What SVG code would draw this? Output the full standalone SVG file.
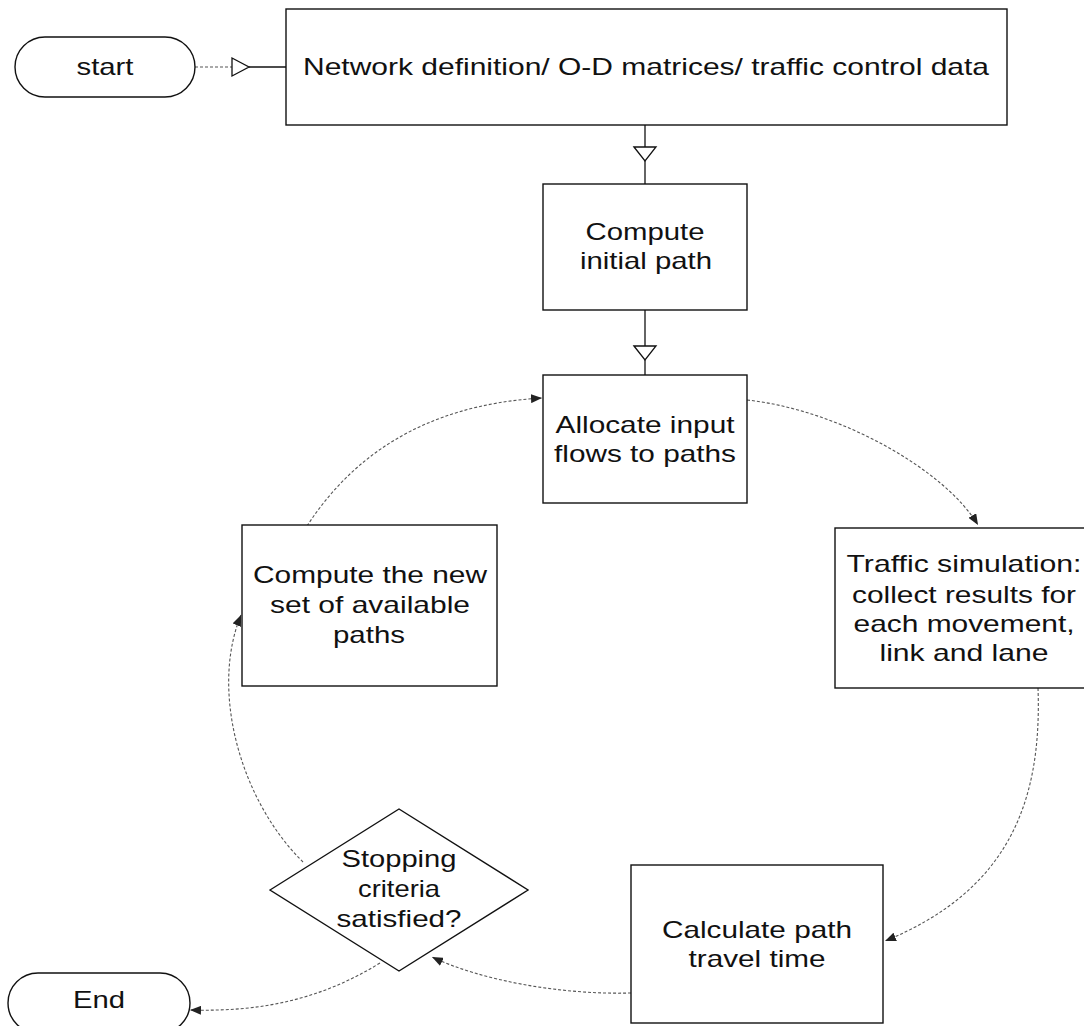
<svg xmlns="http://www.w3.org/2000/svg" width="1084" height="1026" viewBox="0 0 1084 1026">
  <style>
    .box { fill: #fff; stroke: #111; stroke-width: 1.4; }
    .lbl { font-family: "Liberation Sans", Arial, sans-serif; font-size: 24px; fill: #111; text-anchor: middle; }
    .solid { fill: none; stroke: #111; stroke-width: 1.3; }
    .dot { fill: none; stroke: #555; stroke-width: 1.1; stroke-dasharray: 3 2; }
    .open { fill: #fff; stroke: #111; stroke-width: 1.3; }
  </style>
  <defs>
    <marker id="arr" markerUnits="userSpaceOnUse" markerWidth="11" markerHeight="9" refX="11" refY="4.5" orient="auto">
      <path d="M0,0 L11,4.5 L0,9 Z" fill="#222"/>
    </marker>
  </defs>
  <rect width="1084" height="1026" fill="#fff"/>

  <!-- connectors -->
  <g id="connectors">
    <!-- start -> network definition -->
    <line class="dot" x1="195" y1="67" x2="232" y2="67"/>
    <line class="solid" x1="249" y1="67" x2="286" y2="67"/>
    <polygon class="open" points="232,58 249,67 232,76"/>
    <!-- network definition -> initial path -->
    <line class="solid" x1="645" y1="125" x2="645" y2="184"/>
    <polygon class="open" points="634,147 645,161 656,147"/>
    <!-- initial path -> allocate -->
    <line class="solid" x1="645" y1="310" x2="645" y2="375"/>
    <polygon class="open" points="634,346 645,360 656,346"/>
    <!-- allocate -> traffic simulation -->
    <path class="dot" d="M747,400 C840,410 945,470 978,525" marker-end="url(#arr)"/>
    <!-- traffic simulation -> calculate travel time -->
    <path class="dot" d="M1038,688 C1042,800 1010,890 885,941" marker-end="url(#arr)"/>
    <!-- calculate travel time -> stopping criteria -->
    <path class="dot" d="M631,993 C560,995 480,980 432,957" marker-end="url(#arr)"/>
    <!-- stopping criteria -> end -->
    <path class="dot" d="M380,963 C320,1000 260,1012 190,1010" marker-end="url(#arr)"/>
    <!-- stopping criteria -> new path set -->
    <path class="dot" d="M303,862 C240,800 210,690 241,615" marker-end="url(#arr)"/>
    <!-- new path set -> allocate -->
    <path class="dot" d="M307,526 C350,460 420,405 542,398" marker-end="url(#arr)"/>
  </g>

  <g id="start">
    <rect class="box" x="15" y="37" width="180" height="60" rx="30" ry="30"/>
    <text class="lbl" x="105" y="75" textLength="57" lengthAdjust="spacingAndGlyphs">start</text>
  </g>

  <g id="network-definition">
    <rect class="box" x="286" y="9" width="721" height="116"/>
    <text class="lbl" x="646" y="75" textLength="686" lengthAdjust="spacingAndGlyphs">Network definition/ O-D matrices/ traffic control data</text>
  </g>

  <g id="initial-path">
    <rect class="box" x="543" y="184" width="204" height="126"/>
    <text class="lbl" x="645" y="240" textLength="119" lengthAdjust="spacingAndGlyphs">Compute</text>
    <text class="lbl" x="646" y="269" textLength="132" lengthAdjust="spacingAndGlyphs">initial path</text>
  </g>

  <g id="allocate">
    <rect class="box" x="543" y="375" width="204" height="128"/>
    <text class="lbl" x="645" y="433" textLength="179" lengthAdjust="spacingAndGlyphs">Allocate input</text>
    <text class="lbl" x="645" y="462" textLength="182" lengthAdjust="spacingAndGlyphs">flows to paths</text>
  </g>

  <g id="traffic-simulation">
    <rect class="box" x="835" y="528" width="257" height="160"/>
    <text class="lbl" x="964" y="572" textLength="235" lengthAdjust="spacingAndGlyphs">Traffic simulation:</text>
    <text class="lbl" x="964" y="603" textLength="224" lengthAdjust="spacingAndGlyphs">collect results for</text>
    <text class="lbl" x="964" y="632" textLength="221" lengthAdjust="spacingAndGlyphs">each movement,</text>
    <text class="lbl" x="964" y="661" textLength="169" lengthAdjust="spacingAndGlyphs">link and lane</text>
  </g>

  <g id="new-path-set">
    <rect class="box" x="242" y="525" width="255" height="161"/>
    <text class="lbl" x="370" y="583" textLength="234" lengthAdjust="spacingAndGlyphs">Compute the new</text>
    <text class="lbl" x="370" y="613" textLength="200" lengthAdjust="spacingAndGlyphs">set of available</text>
    <text class="lbl" x="369" y="643" textLength="72" lengthAdjust="spacingAndGlyphs">paths</text>
  </g>

  <g id="travel-time">
    <rect class="box" x="631" y="865" width="252" height="158"/>
    <text class="lbl" x="757" y="938" textLength="190" lengthAdjust="spacingAndGlyphs">Calculate path</text>
    <text class="lbl" x="757" y="967" textLength="137" lengthAdjust="spacingAndGlyphs">travel time</text>
  </g>

  <g id="stopping-criteria">
    <polygon class="box" points="270,890 399,809 528,890 399,971"/>
    <text class="lbl" x="399" y="867" textLength="115" lengthAdjust="spacingAndGlyphs">Stopping</text>
    <text class="lbl" x="399" y="897" textLength="82" lengthAdjust="spacingAndGlyphs">criteria</text>
    <text class="lbl" x="399" y="927" textLength="125" lengthAdjust="spacingAndGlyphs">satisfied?</text>
  </g>

  <g id="end">
    <rect class="box" x="8" y="973" width="182" height="60" rx="30" ry="30"/>
    <text class="lbl" x="99" y="1008" textLength="52" lengthAdjust="spacingAndGlyphs">End</text>
  </g>
</svg>
